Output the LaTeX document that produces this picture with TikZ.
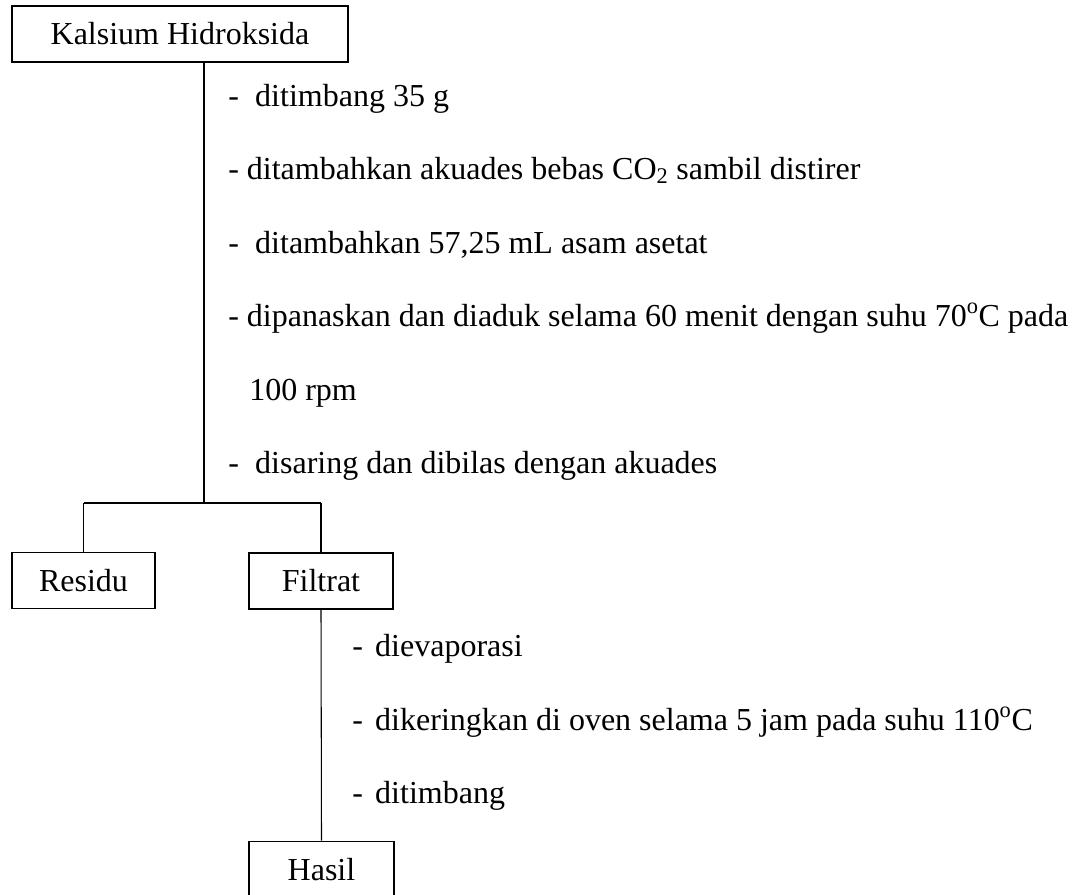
\documentclass[tikz,border=0pt]{standalone}
\usepackage{fontspec}
\setmainfont{Liberation Serif}
\begin{document}
\begin{tikzpicture}[x=0.75pt,y=-0.75pt,
  every node/.style={font=\fontsize{24}{28.8}\selectfont},
  box/.style={draw,line width=0.8pt,inner sep=0pt,minimum height=42.5pt},
  steptext/.style={anchor=base west,inner sep=0pt},
  conn/.style={line width=0.8pt}]
\useasboundingbox (0,0) rectangle (1080,894);
\clip (0,0) rectangle (1080,894);
% boxes
\node[box,minimum width=252pt,minimum height=42pt] (top) at (180,34) {Kalsium Hidroksida};
\node[box,minimum width=107.25pt] (residu) at (83.5,580.5) {Residu};
\node[box,minimum width=108pt,minimum height=42pt] (filtrat) at (321,581) {Filtrat};
\node[box,minimum width=108.75pt] (hasil) at (321.5,869.5) {Hasil};
% junctions
\coordinate (j1) at (204,503);
\coordinate (jR) at (83.5,503);
\coordinate (jF) at (321,503);
% connectors
\draw[conn] (j1 |- top.south) -- (j1);
\draw[conn] (jR) -- (jF);
\draw[conn] (jR) -- (residu.north);
\draw[conn] (jF) -- (filtrat.north);
\draw[conn] (filtrat.south) -- (hasil.north);
% step texts (upper)
\node[steptext] (s1) at (228,106) {\makebox[20.25pt][l]{-}ditimbang 35 g};
\node[steptext] (s2) at (228,179) {- ditambahkan akuades bebas CO\textsubscript{2} sambil distirer};
\node[steptext] (s3) at (228,253) {\makebox[20.25pt][l]{-}ditambahkan 57,25 mL asam asetat};
\node[steptext] (s4) at (228,326) {- dipanaskan dan diaduk selama 60 menit dengan suhu 70\textsuperscript{o}C pada};
\node[steptext] (s5) at (249,400) {100 rpm};
\node[steptext] (s6) at (228,473) {\makebox[20.25pt][l]{-}disaring dan dibilas dengan akuades};
% step texts (lower)
\node[steptext] (t1) at (352,656) {\makebox[17.25pt][l]{-}dievaporasi};
\node[steptext] (t2) at (352,730) {\makebox[17.25pt][l]{-}dikeringkan di oven selama 5 jam pada suhu 110\textsuperscript{o}C};
\node[steptext] (t3) at (352,803) {\makebox[17.25pt][l]{-}ditimbang};
\end{tikzpicture}
\end{document}
